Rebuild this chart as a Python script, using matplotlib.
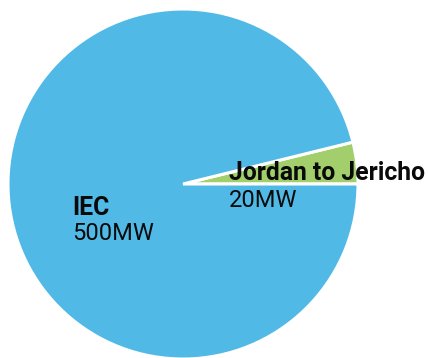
import matplotlib
matplotlib.use("Agg")
import matplotlib.pyplot as plt

# supply sources (MW)
labels = ["Jordan to Jericho", "IEC"]
values = [20, 500]
colors = ["#A2CF6B", "#50B9E6"]

plt.rcParams['font.family'] = ['Roboto', 'DejaVu Sans']

fig = plt.figure(figsize=(4.28, 3.58), dpi=100)
ax = fig.add_axes([8 / 428, -1 / 358, 350 / 428, 350 / 358])

ax.pie(values, colors=colors, startangle=0, counterclock=True, radius=1,
       wedgeprops=dict(edgecolor='white', linewidth=2.2))
ax.set_xlim(-1, 1)
ax.set_ylim(-1, 1)
ax.set_aspect('equal')
ax.axis('off')

# labels
ax.text(0.263, 0.023, labels[0], fontsize=17.8, fontweight='bold', color='#0a0a0a',
        ha='left', va='baseline', clip_on=False)
ax.text(0.263, -0.131, "%dMW" % values[0], fontsize=17, color='#0a0a0a',
        ha='left', va='baseline')
ax.text(-0.632, -0.177, labels[1], fontsize=17.8, fontweight='bold', color='#0a0a0a',
        ha='left', va='baseline')
ax.text(-0.632, -0.32, "%dMW" % values[1], fontsize=17, color='#0a0a0a',
        ha='left', va='baseline')

fig.savefig("out.png", dpi=100)
